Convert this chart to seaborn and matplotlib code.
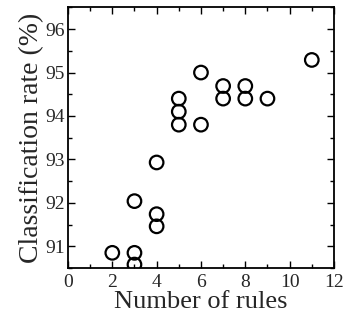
import numpy as np
import pandas as pd
import matplotlib
matplotlib.use('Agg')
import matplotlib.pyplot as plt
import seaborn as sns
from matplotlib.ticker import MultipleLocator

# values
n_rules = [2, 3, 3, 3, 4, 4, 4, 5, 5, 5, 6, 6, 7, 7, 8, 8, 9, 11]
rate = [90.85, 90.85, 90.58, 92.04, 91.74, 91.46, 92.93, 94.40, 94.10, 93.80,
        93.80, 95.0, 94.69, 94.40, 94.69, 94.40, 94.40, 95.29]
x_ticks = [0, 2, 4, 6, 8, 10, 12]
y_ticks = [91, 92, 93, 94, 95, 96]

df = pd.DataFrame({'rules': n_rules, 'rate': rate})

sns.set_style('ticks')
plt.rcParams['font.family'] = ['Liberation Serif', 'DejaVu Serif']

fig, ax = plt.subplots(figsize=(3.45, 3.21), dpi=100)
fig.subplots_adjust(left=0.197, right=0.968, top=0.977, bottom=0.165)

sns.scatterplot(data=df, x='rules', y='rate', ax=ax, marker='o', s=95,
                facecolor='none', edgecolor='black', linewidth=1.6)

ax.set_xlim(0, 12)
ax.set_ylim(90.5, 96.5)
ax.set_xticks(x_ticks)
ax.set_yticks(y_ticks)
ax.xaxis.set_minor_locator(MultipleLocator(1))
ax.yaxis.set_minor_locator(MultipleLocator(0.5))
ax.tick_params(which='both', direction='in', top=True, right=True,
               labelsize=14, color='black', pad=2)
ax.tick_params(axis='x', which='major', pad=4)
ax.tick_params(which='major', length=5, width=1)
ax.tick_params(which='minor', length=3, width=1)
for sp in ax.spines.values():
    sp.set_linewidth(1.3)
    sp.set_color('black')

ax.set_xlabel('Number of rules', fontsize=19, labelpad=0)
ax.set_ylabel('Classification rate (%)', fontsize=20, labelpad=1)

plt.savefig('out.png', dpi=100)
